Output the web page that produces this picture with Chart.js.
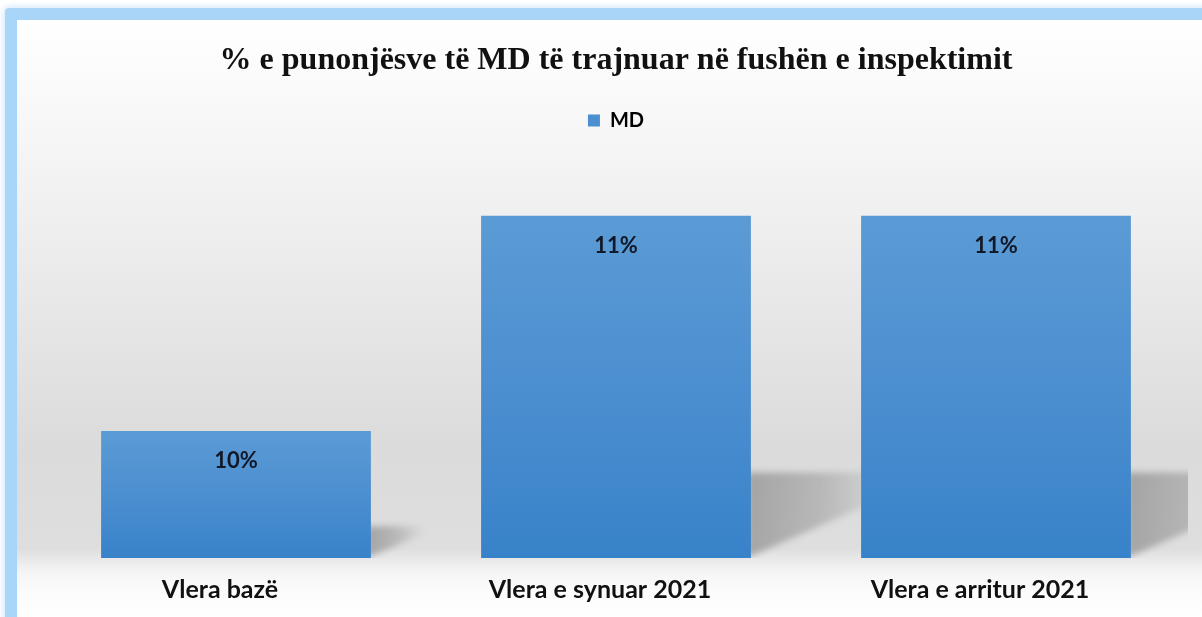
<!DOCTYPE html>
<html>
<head>
<meta charset="utf-8">
<script src="https://cdn.jsdelivr.net/npm/chart.js@4.4.1/dist/chart.umd.min.js"></script>
<style>
  html, body { margin: 0; padding: 0; background: #fff; overflow: hidden; }
  .frame {
    position: absolute; left: 5px; top: 8px;
    width: 1240px; height: 650px;
    border: 12px solid #a9d5f8;
    border-radius: 4px;
    box-shadow: 0 0 6px 2px #d6ebfc, inset 0 2px 3px rgba(0,0,0,0.18);
  }
  .box { position: absolute; left: 17px; top: 20px; width: 1185px; height: 597px; }
</style>
</head>
<body>
<div class="frame"></div>
<div class="box"><canvas id="myChart" width="1185" height="597"></canvas></div>
<script>
const categories = ["Vlera bazë", "Vlera e synuar 2021", "Vlera e arritur 2021"];
const mdValues = [10, 11, 11];
const seriesName = "MD";
const chartTitle = "% e punonjësve të MD të trajnuar në fushën e inspektimit";

const ctx = document.getElementById("myChart").getContext("2d");

// grey backdrop that fades back to white on the floor under the bars
const backdrop = {
  id: "backdrop",
  beforeDraw(chart) {
    const c = chart.ctx;
    const h = chart.height;
    const g = c.createLinearGradient(0, 0, 0, h);
    g.addColorStop(0, "#ffffff");
    g.addColorStop(0.05, "#fdfdfd");
    g.addColorStop(0.22, "#f5f5f5");
    g.addColorStop(0.47, "#e8e8e8");
    g.addColorStop(0.72, "#dbdbdb");
    g.addColorStop(0.885, "#dedede");
    g.addColorStop(0.925, "#f5f5f5");
    g.addColorStop(0.96, "#fcfcfc");
    g.addColorStop(1, "#ffffff");
    c.save();
    c.fillStyle = g;
    c.fillRect(0, 0, chart.width, h);
    c.restore();
  },
};

// slanted shadow cast to the right of each bar
const barShadows = {
  id: "barShadows",
  beforeDatasetsDraw(chart) {
    const c = chart.ctx;
    const area = chart.chartArea;
    const meta = chart.getDatasetMeta(0);
    c.save();
    c.beginPath();
    c.rect(area.left, area.top, area.right - area.left + 2, area.bottom - area.top);
    c.clip();
    c.filter = "blur(3px)";
    meta.data.forEach((bar) => {
      const right = bar.x + bar.width / 2;
      const base = Math.min(bar.base, area.bottom);
      const h = base - bar.y;
      const len = 0.42 * h;
      const top = base - 0.25 * h;
      const g = c.createLinearGradient(right, 0, right + len, 0);
      g.addColorStop(0, "rgba(0,0,0,0.25)");
      g.addColorStop(0.5, "rgba(0,0,0,0.16)");
      g.addColorStop(1, "rgba(0,0,0,0)");
      c.fillStyle = g;
      c.beginPath();
      c.moveTo(right - 4, base);
      c.lineTo(right - 4, top);
      c.lineTo(right + len, top);
      c.lineTo(right + len, top + 0.06 * h);
      c.closePath();
      c.fill();
    });
    c.restore();
  },
};

// value labels just inside the top of each bar
const valueLabels = {
  id: "valueLabels",
  afterDatasetsDraw(chart) {
    const c = chart.ctx;
    const meta = chart.getDatasetMeta(0);
    c.save();
    c.font = "bold 22px Lato";
    c.fillStyle = "#111827";
    c.textAlign = "center";
    c.textBaseline = "middle";
    meta.data.forEach((bar, i) => {
      c.fillText(mdValues[i] + "%", bar.x, bar.y + 30);
    });
    c.restore();
  },
};

const barFill = (context) => {
  const chart = context.chart;
  const y = chart.scales.y;
  if (!chart.chartArea || !y) return "#4a8fd0";
  const top = y.getPixelForValue(context.raw);
  const bottom = y.getPixelForValue(y.min);
  const g = chart.ctx.createLinearGradient(0, top, 0, bottom);
  g.addColorStop(0, "#5b9bd5");
  g.addColorStop(0.5, "#4c8fd0");
  g.addColorStop(1, "#3882c9");
  return g;
};

const data = {
  labels: categories,
  datasets: [
    {
      label: seriesName,
      data: mdValues,
      backgroundColor: barFill,
      borderWidth: 0,
      barPercentage: 0.71,
      categoryPercentage: 1,
    },
  ],
};

const config = {
  type: "bar",
  data: data,
  plugins: [backdrop, barShadows, valueLabels],
  options: {
    responsive: false,
    animation: false,
    layout: { padding: { left: 29, right: 16, top: 0, bottom: 3 } },
    plugins: {
      title: {
        display: true,
        text: chartTitle,
        color: "#111111",
        font: { family: "Liberation Serif", size: 32, weight: "bold" },
        padding: { top: 22, bottom: 0 },
      },
      legend: {
        labels: {
          boxWidth: 12,
          boxHeight: 12,
          padding: 30,
          color: "#111111",
          font: { family: "Lato", size: 20, weight: "bold" },
          generateLabels: () => [
            { text: seriesName, fillStyle: "#4a8fd0", strokeStyle: "#4a8fd0", lineWidth: 0 },
          ],
        },
      },
      tooltip: { enabled: false },
    },
    scales: {
      x: {
        grid: { display: false },
        border: { display: false },
        ticks: {
          color: "#111111",
          font: { family: "Lato", size: 25, weight: "bold" },
          padding: 9,
          labelOffset: -16,
        },
      },
      y: {
        display: false,
        min: 9.41,
        max: 11.35,
      },
    },
  },
};

const myChart = new Chart(ctx, config);
</script>
</body>
</html>
